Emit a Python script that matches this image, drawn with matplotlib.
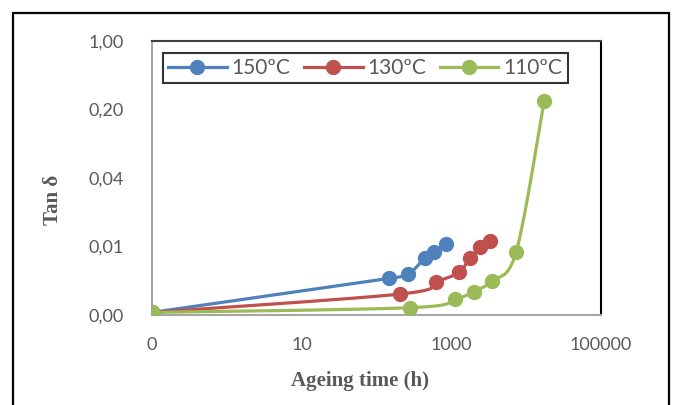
import numpy as np
import matplotlib
matplotlib.use("Agg")
import matplotlib.pyplot as plt
from matplotlib.patches import Rectangle

# ageing time (h) -- 0 h is drawn at 0.1 on the log axis
t_150 = [0.1, 146, 265, 441, 593, 839]
tan_150 = [0.0017, 0.00379, 0.00416, 0.00607, 0.00698, 0.00848]

t_130 = [0.1, 209, 631, 1267, 1754, 2437, 3243]
tan_130 = [0.0017, 0.00262, 0.00350, 0.00436, 0.00607, 0.00785, 0.00917]

t_110 = [0.1, 284, 1130, 1983, 3490, 7360, 17400]
tan_110 = [0.0017, 0.0019, 0.00233, 0.00277, 0.00356, 0.00708, 0.244]

labels = ["150ºC", "130ºC", "110ºC"]
colors = ["#4F81BD", "#C0504D", "#9BBB59"]

x_ticks = [0.1, 10, 1000, 100000]
x_ticklabels = ["0", "10", "1000", "100000"]
y_ticks = [0.0016, 0.008, 0.04, 0.2, 1.0]
y_ticklabels = ["0,00", "0,01", "0,04", "0,20", "1,00"]


def smooth(x, y, n=30):
    # excel-style smoothed line (catmull-rom in log space)
    u = np.log10(x)
    v = np.log10(y)
    pts = np.column_stack([u, v])
    pts = np.vstack([pts[0], pts, pts[-1]])
    out = []
    for i in range(1, len(pts) - 2):
        p0, p1, p2, p3 = pts[i - 1], pts[i], pts[i + 1], pts[i + 2]
        s = np.linspace(0, 1, n)[:, None]
        seg = 0.5 * ((2 * p1) + (-p0 + p2) * s + (2 * p0 - 5 * p1 + 4 * p2 - p3) * s ** 2
                     + (-p0 + 3 * p1 - 3 * p2 + p3) * s ** 3)
        out.append(seg)
    out = np.vstack(out)
    return 10 ** out[:, 0], 10 ** out[:, 1]


fig = plt.figure(figsize=(6.74, 4.05), dpi=100)
ax = fig.add_axes([152 / 674, 90 / 405, 449 / 674, 274 / 405])

# outer chart frame
fig.patches.append(Rectangle((13 / 674, -0.05), 656 / 674, (405 - 13) / 405 + 0.05,
                             transform=fig.transFigure, fill=False, edgecolor="black",
                             linewidth=1.6, zorder=0))

for x, y, lab, c in zip([t_150, t_130, t_110], [tan_150, tan_130, tan_110], labels, colors):
    sx, sy = smooth(x, y)
    ax.plot(sx, sy, color=c, lw=2.3, solid_capstyle="round", zorder=3)
    ax.plot(x, y, "o", color=c, ms=10, zorder=4)
    ax.plot([], [], "-o", color=c, lw=2.3, ms=10, label=lab)

ax.set_xscale("log")
ax.set_yscale("log", base=5)
ax.set_xlim(0.1, 100000)
ax.set_ylim(0.0016, 1.0)
ax.set_xticks(x_ticks)
ax.set_xticklabels(x_ticklabels)
ax.set_yticks(y_ticks)
ax.set_yticklabels(y_ticklabels)
ax.minorticks_off()
ax.tick_params(length=0, labelsize=13, labelcolor="#595959")
ax.tick_params(axis="x", pad=16)
ax.tick_params(axis="y", pad=20)
for lbl in ax.get_xticklabels() + ax.get_yticklabels():
    lbl.set_fontfamily("Lato")

for side in ["left", "bottom"]:
    ax.spines[side].set_color("#A6A6A6")
    ax.spines[side].set_linewidth(1.5)
for side in ["top", "right"]:
    ax.spines[side].set_color("black")
    ax.spines[side].set_linewidth(1.5)
ax.spines["top"].set_color("#404040")

fig.text(360 / 674, 1 - 381 / 405, "Ageing time (h)", ha="center", va="center",
         fontsize=15, fontweight="bold", family="Liberation Serif", color="#595959")
fig.text(53 / 674, 1 - 200 / 405, "Tan δ", ha="center", va="center", rotation=90,
         fontsize=15, fontweight="bold", family="Liberation Serif", color="#595959")

leg = ax.legend(loc="upper left", bbox_to_anchor=(11 / 449, 1 - 12 / 274), ncol=3,
                borderaxespad=0, frameon=True, fancybox=False, handlelength=2.8,
                columnspacing=0.65, handletextpad=0.25, borderpad=0.25,
                prop={"family": "Lato", "size": 15})
leg.get_frame().set_edgecolor("black")
leg.get_frame().set_linewidth(1.5)
for txt in leg.get_texts():
    txt.set_color("#595959")

fig.savefig("out.png", dpi=100)
